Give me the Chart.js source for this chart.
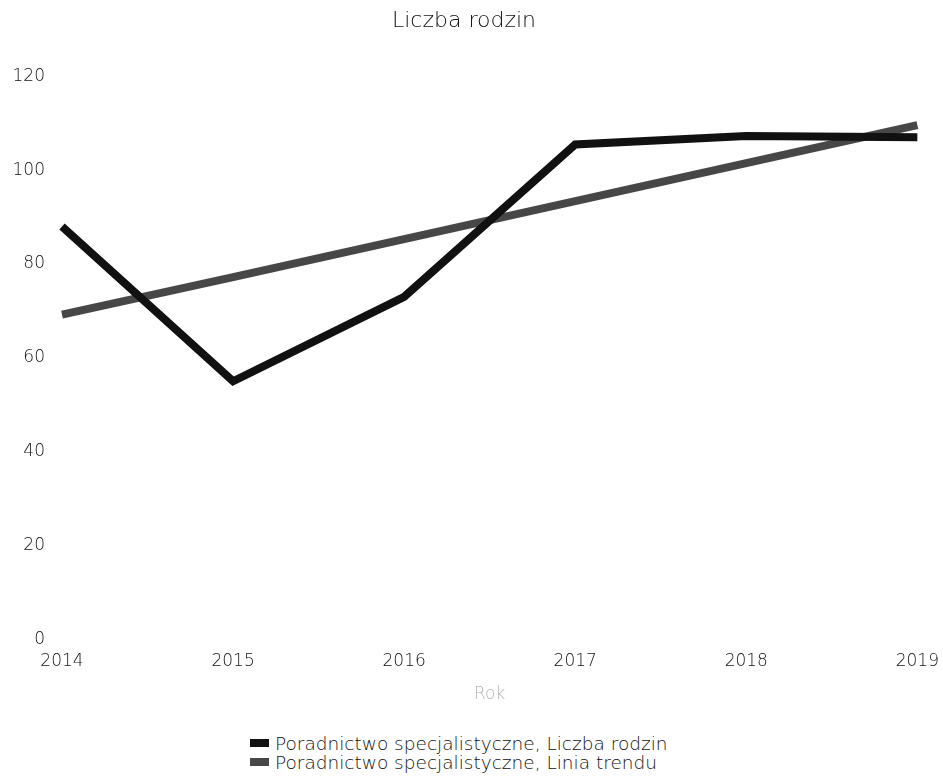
<!DOCTYPE html>
<html>
<head>
<meta charset="utf-8">
<script src="https://cdn.jsdelivr.net/npm/chart.js@4/dist/chart.umd.min.js"></script>
<style>
  html, body { margin: 0; padding: 0; background: #fff; }
  #wrap { position: relative; width: 943px; height: 777px; }
  #chart-box { position: absolute; left: 0; top: 0; width: 943px; height: 705px; }
  #legend { position: absolute; left: 250px; top: 734px; font-family: "DejaVu Sans", sans-serif; font-weight: 300; font-size: 18.5px; color: #111; }
  #legend .item { height: 19px; line-height: 19px; white-space: nowrap; }
  #legend .box { display: inline-block; width: 19px; height: 8px; margin-right: 6px; vertical-align: 3px; }
</style>
</head>
<body>
<div id="wrap">
  <div id="chart-box"><canvas id="chart"></canvas></div>
  <div id="legend"></div>
</div>
<script>
// Data
const years = ['2014', '2015', '2016', '2017', '2018', '2019'];
const familyCounts = [88, 55, 73, 105.5, 107.3, 107];
const trendValues = [69.2, 77.2, 85.3, 93.4, 101.5, 109.6];
const seriesNames = [
  'Poradnictwo specjalistyczne, Liczba rodzin',
  'Poradnictwo specjalistyczne, Linia trendu'
];
const seriesColors = ['#111111', '#474747'];

const fontFamily = '"DejaVu Sans", sans-serif';

const ctx = document.getElementById('chart').getContext('2d');

const chart = new Chart(ctx, {
  type: 'line',
  data: {
    labels: years,
    datasets: [
      {
        label: seriesNames[0],
        data: familyCounts,
        borderColor: seriesColors[0],
        backgroundColor: seriesColors[0],
        borderWidth: 8,
        pointRadius: 0,
        tension: 0
      },
      {
        label: seriesNames[1],
        data: trendValues,
        borderColor: seriesColors[1],
        backgroundColor: seriesColors[1],
        borderWidth: 8,
        pointRadius: 0,
        tension: 0
      }
    ]
  },
  options: {
    responsive: true,
    maintainAspectRatio: false,
    animation: false,
    layout: {
      padding: { left: 10, right: 25, top: 0, bottom: 0 }
    },
    scales: {
      x: {
        offset: false,
        grid: { display: false },
        border: { display: false },
        ticks: {
          color: '#111',
          font: { family: fontFamily, size: 17, weight: 300 },
          maxRotation: 0,
          autoSkip: false,
          padding: 4
        },
        title: {
          display: true,
          text: 'Rok',
          color: '#b5b5b5',
          font: { family: fontFamily, size: 17, weight: 300 },
          padding: { top: 9, bottom: 0 }
        }
      },
      y: {
        min: 0,
        max: 120,
        grid: { display: false },
        border: { display: false },
        ticks: {
          stepSize: 20,
          color: '#111',
          font: { family: fontFamily, size: 17, weight: 300 },
          padding: 9
        },
        afterFit: function(axis) {
          axis.width = 52;
        }
      }
    },
    plugins: {
      title: {
        display: true,
        text: 'Liczba rodzin',
        color: '#111',
        font: { family: fontFamily, size: 22, weight: 300 },
        padding: { top: 8, bottom: 42 }
      },
      legend: { display: false },
      tooltip: { enabled: false }
    }
  }
});

// Simple HTML legend, items stacked as in the original
const legendEl = document.getElementById('legend');
chart.data.datasets.forEach(function(ds) {
  const row = document.createElement('div');
  row.className = 'item';
  const box = document.createElement('span');
  box.className = 'box';
  box.style.background = ds.borderColor;
  row.appendChild(box);
  row.appendChild(document.createTextNode(ds.label));
  legendEl.appendChild(row);
});
</script>
</body>
</html>
